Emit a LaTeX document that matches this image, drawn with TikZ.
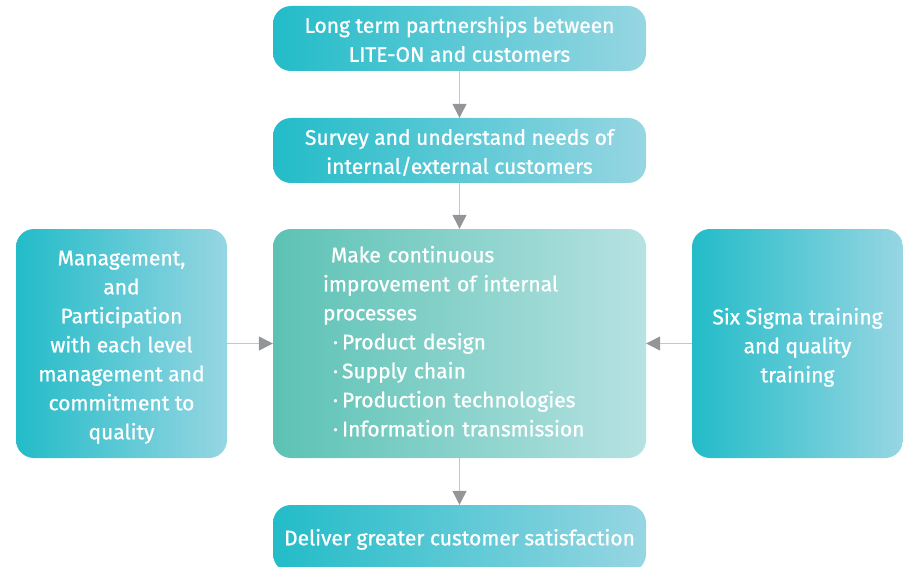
\documentclass[tikz,border=0pt]{standalone}
\usepackage{fontspec}
\setmainfont{Fira Sans}[FakeBold=0.9]
\usetikzlibrary{arrows.meta}
\definecolor{tealA}{HTML}{22BCC8}
\definecolor{tealB}{HTML}{96D6E2}
\definecolor{greenA}{HTML}{5CC2B4}
\definecolor{greenB}{HTML}{B6E2E2}
\definecolor{lineGray}{HTML}{C6C6C6}
\definecolor{tipGray}{HTML}{939598}
% stacked lines of a card: alignment, extra room above (pushes the lines down by half), text
\NewDocumentCommand\cardlines{O{c} O{6pt} m}{\raisebox{0pt}[\dimexpr\height+#2\relax][\depth]{\begin{tabular}{@{}#1@{}}#3\end{tabular}}}
\tikzset{
  card/.style={rectangle, rounded corners=18pt, left color=tealA, right color=tealB,
    text=white, inner sep=0pt,
    font=\fontsize{21}{29}\selectfont},
  widecard/.style={card, minimum width=373pt, minimum height=65pt},
  tallcard/.style={card, minimum width=211pt, minimum height=229pt},
  flow/.style={draw=lineGray, line width=1.2pt,
    -{Triangle[width=14pt,length=14pt,color=tipGray]}}
}
\begin{document}
\begin{tikzpicture}[x=1pt,y=-1pt]
\useasboundingbox (0,0) rectangle (903,567);
\node[widecard] (partner) at (459.5,38.5) {\cardlines{Long term partnerships between\\LITE-ON and customers}};
\node[widecard] (survey) at (459.5,150.5) {\cardlines{Survey and understand needs of\\internal/external customers}};
\node[card, minimum width=373pt, minimum height=229pt, left color=greenA, right color=greenB,
  text width=273pt] (improve) at (459.5,343.5)
  {\cardlines[l][0pt]{\hspace*{8pt}Make continuous\\improvement of internal\\processes\\
   \hspace*{10pt}·\hspace{4pt}Product design\\
   \hspace*{10pt}·\hspace{4pt}Supply chain\\
   \hspace*{10pt}·\hspace{4pt}Production technologies\\
   \hspace*{10pt}·\hspace{4pt}Information transmission}};
\node[tallcard] (manage) at (121.5,343.5) {\cardlines{Management,\\and\\Participation\\with each level\\management and\\commitment to\\quality}};
\node[tallcard] (sigma) at (797.5,343.5) {\cardlines[c][8pt]{Six Sigma training\\and quality\\training}};
\node[widecard, minimum height=67pt] (deliver) at (459.5,538.5) {\cardlines[c][2pt]{Deliver greater customer satisfaction}};
\draw[flow] (partner) -- (survey);
\draw[flow] (survey) -- (improve);
\draw[flow] (improve) -- (deliver);
\draw[flow] (manage) -- (improve);
\draw[flow] (sigma) -- (improve);
\end{tikzpicture}
\end{document}
